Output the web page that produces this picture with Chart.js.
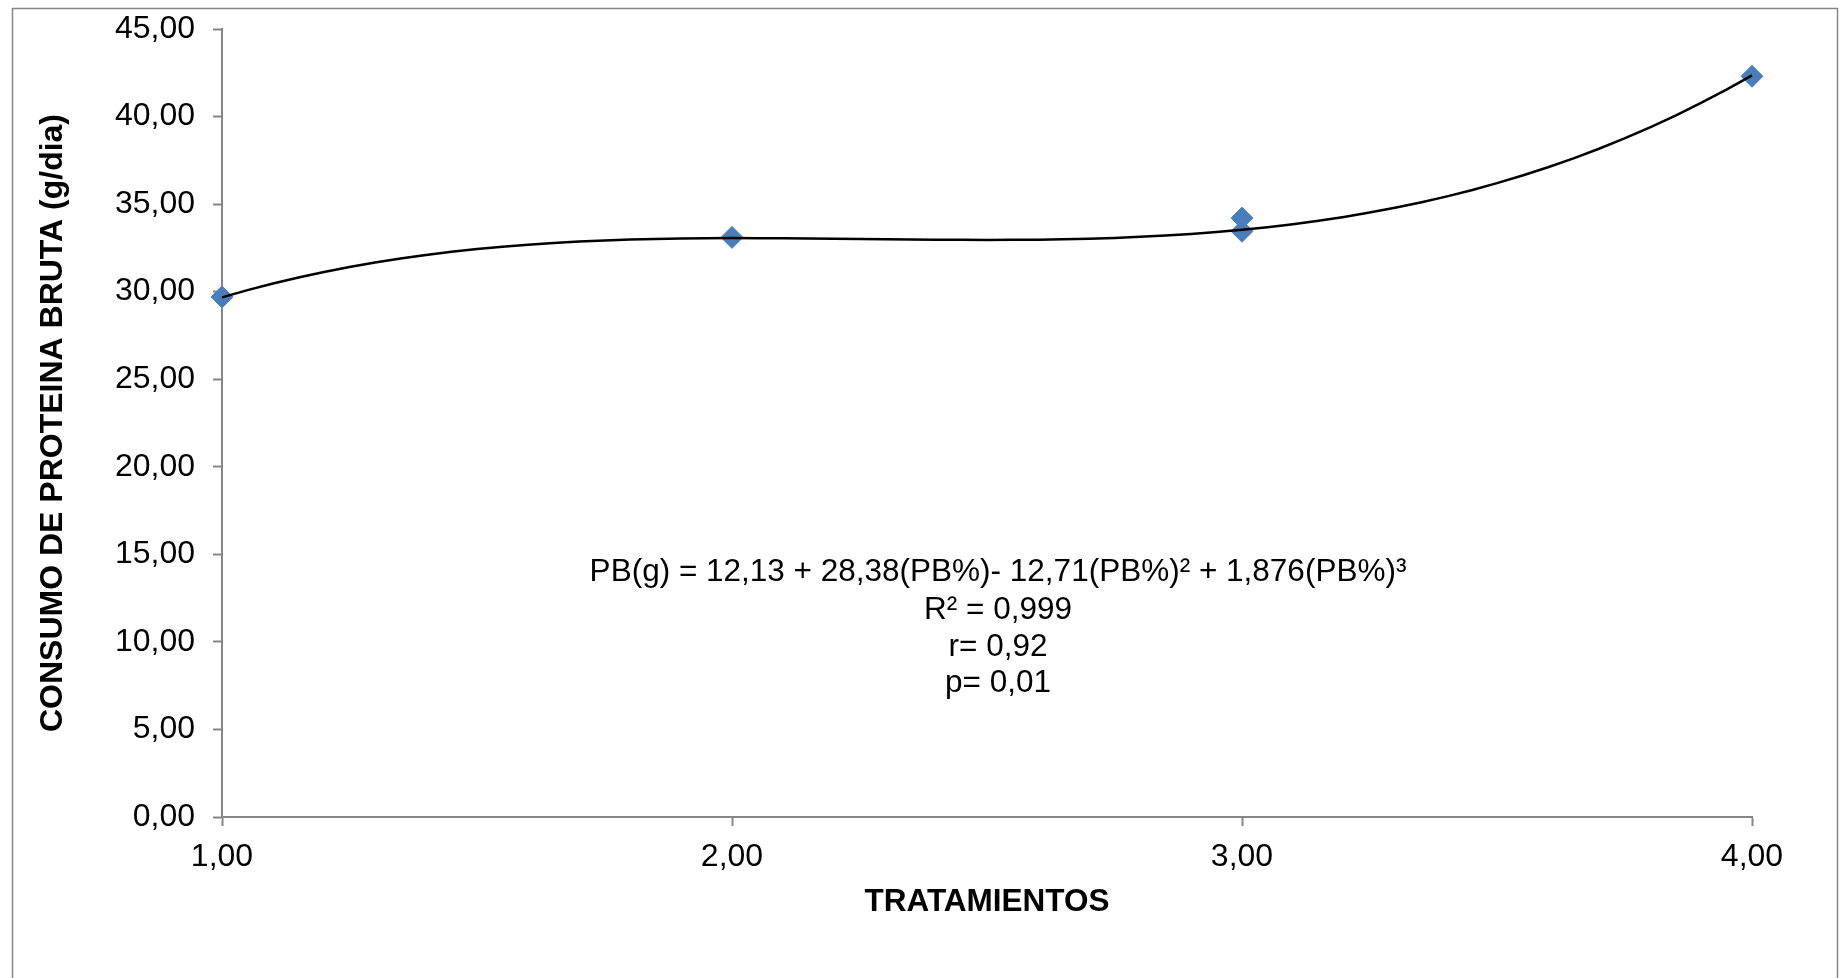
<!DOCTYPE html>
<html>
<head>
<meta charset="utf-8">
<script src="https://cdn.jsdelivr.net/npm/chart.js@4.4.0/dist/chart.umd.min.js"></script>
<style>
  html, body { margin: 0; padding: 0; background: #fff; }
  #wrap { width: 1845px; height: 978px; position: relative; }
</style>
</head>
<body>
<div id="wrap"><canvas id="chart1" width="1845" height="978"></canvas></div>
<script>
// observed points (tratamiento, consumo g/dia)
var tratamientos = [1, 2, 3, 3, 4];
var consumo = [29.7, 33.1, 34.2, 33.45, 42.3];

// trendline coefficients shown on the chart: a + b*x + c*x^2 + d*x^3
var coefs = [12.13, 28.38, -12.71, 1.876];

var yTicks = [0, 5, 10, 15, 20, 25, 30, 35, 40, 45];
var xTicks = [1, 2, 3, 4];

var eqLines = [
  "PB(g) = 12,13 + 28,38(PB%)- 12,71(PB%)² + 1,876(PB%)³",
  "R² = 0,999",
  "r= 0,92",
  "p= 0,01"
];

var FONT = "'Liberation Sans', Arial, sans-serif";
var GREY = "#868686";

function fmt(v) { return v.toFixed(2).replace(".", ","); }

var points = tratamientos.map(function(x, i) { return {x: x, y: consumo[i]}; });

var trend = [];
for (var x = 1; x <= 4.0001; x += 0.05) {
  trend.push({x: x, y: coefs[0] + coefs[1]*x + coefs[2]*x*x + coefs[3]*x*x*x});
}

var frame = {
  id: "frame",
  beforeDraw: function(chart) {
    var ctx = chart.ctx;
    ctx.save();
    ctx.fillStyle = "#fff";
    ctx.fillRect(0, 0, chart.width, chart.height);
    ctx.strokeStyle = GREY;
    ctx.lineWidth = 1.5;
    ctx.strokeRect(12.5, 8.5, 1825, 1000);
    ctx.restore();
  },
  afterDraw: function(chart) {
    var ctx = chart.ctx;
    ctx.save();
    ctx.fillStyle = "#000";
    ctx.font = "31.5px " + FONT;
    ctx.textAlign = "center";
    ctx.textBaseline = "middle";
    var ys = [572, 610, 647, 683];
    eqLines.forEach(function(t, i) { ctx.fillText(t, 998, ys[i]); });
    ctx.restore();
  }
};

new Chart(document.getElementById("chart1"), {
  type: "scatter",
  data: {
    datasets: [
      {
        label: "tendencia",
        data: trend,
        showLine: true,
        borderColor: "#000",
        borderWidth: 2.5,
        pointRadius: 0,
        fill: false,
        clip: false,
        order: 0
      },
      {
        label: "consumo",
        data: points,
        pointStyle: "rectRot",
        pointRadius: 11,
        pointBackgroundColor: "#4A7EBB",
        pointBorderColor: "#4F81BD",
        pointBorderWidth: 1,
        clip: false,
        order: 1
      }
    ]
  },
  plugins: [frame],
  options: {
    responsive: false,
    animation: false,
    layout: { padding: { left: 0, top: 29, right: 93, bottom: 0 } },
    plugins: { legend: { display: false }, tooltip: { enabled: false } },
    scales: {
      x: {
        type: "linear",
        min: 1, max: 4,
        afterBuildTicks: function(s) { s.ticks = xTicks.map(function(v) { return {value: v}; }); },
        afterFit: function(s) { s.height = 978 - 817; s.paddingLeft = 0; s.paddingRight = 0; },
        border: { color: GREY, width: 2 },
        grid: { drawOnChartArea: false, tickLength: 9, tickColor: GREY, tickWidth: 2 },
        ticks: { color: "#000", padding: 12, font: { family: FONT, size: 32 }, callback: fmt },
        title: {
          display: true, text: "TRATAMIENTOS", color: "#000",
          font: { family: FONT, size: 31.5, weight: "bold" },
          padding: { top: 0, bottom: 57 }
        }
      },
      y: {
        min: 0, max: 45,
        afterBuildTicks: function(s) { s.ticks = yTicks.map(function(v) { return {value: v}; }); },
        afterFit: function(s) { s.width = 222; s.paddingTop = 0; s.paddingBottom = 0; },
        border: { color: GREY, width: 2 },
        grid: { drawOnChartArea: false, tickLength: 9, tickColor: GREY, tickWidth: 2 },
        ticks: { color: "#000", padding: 18, font: { family: FONT, size: 32 }, callback: fmt },
        title: {
          display: true, text: "CONSUMO DE PROTEINA BRUTA (g/dia)", color: "#000",
          font: { family: FONT, size: 32, weight: "bold" },
          padding: { top: 34, bottom: 0 }
        }
      }
    }
  }
});
</script>
</body>
</html>
